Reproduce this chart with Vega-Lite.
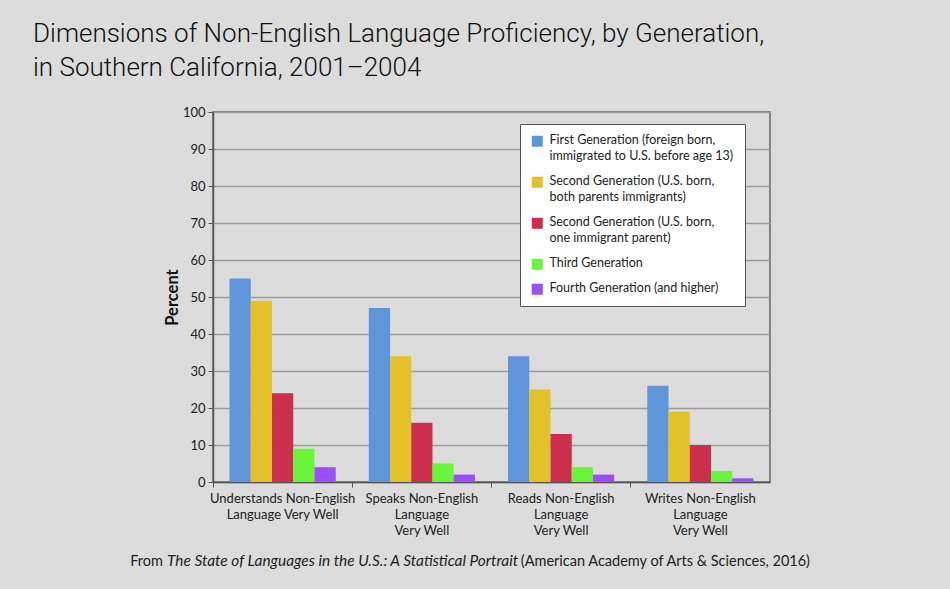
{
  "$schema": "https://vega.github.io/schema/vega-lite/v6.json",
  "autosize": {"type": "none"},
  "padding": {"left": 213, "top": 112, "right": 180, "bottom": 107},
  "width": 557,
  "height": 370,
  "background": "#dcdcdc",
  "title": {
    "text": ["Dimensions of Non-English Language Proficiency, by Generation,", "in Southern California, 2001–2004"],
    "anchor": "start",
    "frame": "group",
    "dx": -180,
    "offset": 25,
    "font": "Roboto",
    "fontSize": 26,
    "fontWeight": 300,
    "lineHeight": 34,
    "color": "#111111"
  },
  "data": {
    "values": [
      {"skill": "Understands Non-English\nLanguage Very Well", "generation": "First Generation (foreign born,\nimmigrated to U.S. before age 13)", "percent": 55},
      {"skill": "Understands Non-English\nLanguage Very Well", "generation": "Second Generation (U.S. born,\nboth parents immigrants)", "percent": 49},
      {"skill": "Understands Non-English\nLanguage Very Well", "generation": "Second Generation (U.S. born,\none immigrant parent)", "percent": 24},
      {"skill": "Understands Non-English\nLanguage Very Well", "generation": "Third Generation", "percent": 9},
      {"skill": "Understands Non-English\nLanguage Very Well", "generation": "Fourth Generation (and higher)", "percent": 4},
      {"skill": "Speaks Non-English\nLanguage\nVery Well", "generation": "First Generation (foreign born,\nimmigrated to U.S. before age 13)", "percent": 47},
      {"skill": "Speaks Non-English\nLanguage\nVery Well", "generation": "Second Generation (U.S. born,\nboth parents immigrants)", "percent": 34},
      {"skill": "Speaks Non-English\nLanguage\nVery Well", "generation": "Second Generation (U.S. born,\none immigrant parent)", "percent": 16},
      {"skill": "Speaks Non-English\nLanguage\nVery Well", "generation": "Third Generation", "percent": 5},
      {"skill": "Speaks Non-English\nLanguage\nVery Well", "generation": "Fourth Generation (and higher)", "percent": 2},
      {"skill": "Reads Non-English\nLanguage\nVery Well", "generation": "First Generation (foreign born,\nimmigrated to U.S. before age 13)", "percent": 34},
      {"skill": "Reads Non-English\nLanguage\nVery Well", "generation": "Second Generation (U.S. born,\nboth parents immigrants)", "percent": 25},
      {"skill": "Reads Non-English\nLanguage\nVery Well", "generation": "Second Generation (U.S. born,\none immigrant parent)", "percent": 13},
      {"skill": "Reads Non-English\nLanguage\nVery Well", "generation": "Third Generation", "percent": 4},
      {"skill": "Reads Non-English\nLanguage\nVery Well", "generation": "Fourth Generation (and higher)", "percent": 2},
      {"skill": "Writes Non-English\nLanguage\nVery Well", "generation": "First Generation (foreign born,\nimmigrated to U.S. before age 13)", "percent": 26},
      {"skill": "Writes Non-English\nLanguage\nVery Well", "generation": "Second Generation (U.S. born,\nboth parents immigrants)", "percent": 19},
      {"skill": "Writes Non-English\nLanguage\nVery Well", "generation": "Second Generation (U.S. born,\none immigrant parent)", "percent": 10},
      {"skill": "Writes Non-English\nLanguage\nVery Well", "generation": "Third Generation", "percent": 3},
      {"skill": "Writes Non-English\nLanguage\nVery Well", "generation": "Fourth Generation (and higher)", "percent": 1}
    ]
  },
  "layer": [
    {
      "mark": {"type": "bar"},
      "encoding": {
        "x": {
          "field": "skill",
          "type": "nominal",
          "sort": null,
          "scale": {"paddingInner": 0, "paddingOuter": 0},
          "axis": {
            "title": null,
            "labelAngle": 0,
            "labelExpr": "split(datum.label, '\\n')",
            "labelLineHeight": 16,
            "labelFontSize": 13,
            "labelPadding": 5,
            "bandPosition": 0,
            "tickSize": 5,
            "grid": false
          }
        },
        "xOffset": {
          "field": "generation",
          "type": "nominal",
          "sort": null,
          "scale": {"paddingInner": 0, "paddingOuter": 0.78}
        },
        "y": {
          "field": "percent",
          "type": "quantitative",
          "scale": {"domain": [0, 100]},
          "axis": {
            "title": "Percent",
            "values": [0, 10, 20, 30, 40, 50, 60, 70, 80, 90, 100],
            "labelFontSize": 13,
            "labelPadding": 3,
            "tickSize": 5,
            "titleFontSize": 16.5,
            "titleFontWeight": "bold",
            "titlePadding": 2,
            "grid": true
          }
        },
        "color": {
          "field": "generation",
          "type": "nominal",
          "sort": null,
          "scale": {
            "range": ["#5f95db", "#e3c12b", "#cb2f4b", "#6af53c", "#9b4ff7"]
          },
          "legend": {
            "title": null,
            "orient": "none",
            "legendX": 307,
            "legendY": 12,
            "fillColor": "white",
            "strokeColor": "#555555",
            "padding": 11,
            "symbolType": "square",
            "symbolSize": 121,
            "symbolStrokeWidth": 0,
            "labelFontSize": 12.5,
            "labelLimit": 300,
            "labelOffset": 6,
            "rowPadding": 12,
            "labelExpr": "split(datum.label, '\\n')",
            "labelBaseline": "top",
            "encode": {
              "labels": {"update": {"lineHeight": {"value": 16}, "dy": {"value": -7}}}
            }
          }
        }
      }
    },
    {
      "data": {"values": [{}]},
      "mark": {"type": "text", "text": "From", "align": "right", "baseline": "alphabetic", "fontSize": 14.5, "color": "#222222"},
      "encoding": {"x": {"value": -50}, "y": {"value": 454}}
    },
    {
      "data": {"values": [{}]},
      "mark": {"type": "text", "text": "The State of Languages in the U.S.: A Statistical Portrait", "align": "left", "baseline": "alphabetic", "fontSize": 15.4, "fontStyle": "italic", "color": "#222222"},
      "encoding": {"x": {"value": -46}, "y": {"value": 454}}
    },
    {
      "data": {"values": [{}]},
      "mark": {"type": "text", "text": "(American Academy of Arts & Sciences, 2016)", "align": "right", "baseline": "alphabetic", "fontSize": 14.5, "color": "#222222"},
      "encoding": {"x": {"value": 597}, "y": {"value": 454}}
    }
  ],
  "config": {
    "font": "Lato",
    "view": {"stroke": "#666666", "strokeWidth": 1.5},
    "axis": {
      "labelFont": "Lato",
      "titleFont": "Lato",
      "labelColor": "#222222",
      "titleColor": "#111111",
      "domainColor": "#555555",
      "domainWidth": 1.5,
      "tickColor": "#555555",
      "gridColor": "#9a9a9a",
      "gridWidth": 1.3
    },
    "legend": {"labelFont": "Lato", "labelColor": "#222222"},
    "text": {"font": "Lato"}
  }
}
